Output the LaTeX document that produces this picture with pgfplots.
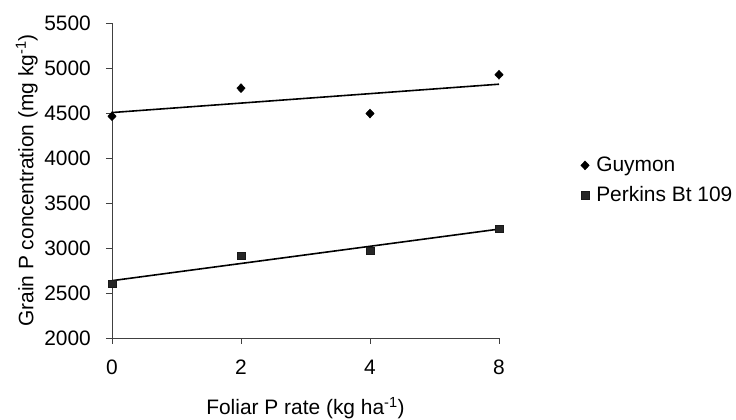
\documentclass[border=0pt]{standalone}
\usepackage{fontspec}
\setmainfont{Liberation Sans}
\usepackage{pgfplots}
\pgfplotsset{compat=1.18}
\newcommand{\bigf}{\fontsize{21}{25}\selectfont}
\begin{document}
\bigf
\begin{tikzpicture}
\useasboundingbox (0,0) rectangle (736bp,420bp);
\begin{axis}[
  at={(112bp,82bp)}, anchor=south west,
  scale only axis, width=387bp, height=315bp,
  xmin=0, xmax=3, ymin=2000, ymax=5500,
  xtick={0,1,2,3}, xticklabels={0,2,4,8},
  ytick={2000,2500,...,5500},
  axis x line=bottom, axis y line=left,
  axis line style={-, draw=black!75, line width=1pt},
  tick align=outside, major tick length=6bp,
  tick style={draw=black!75, line width=1pt},
  /pgf/number format/assume math mode=true,
  /pgf/number format/set thousands separator={},
  tick label style={font=\bigf},
  yticklabel style={xshift=-8bp},
  xticklabel style={yshift=-9bp},
  xlabel={Foliar P rate (kg ha\textsuperscript{-1})},
  ylabel={Grain P concentration (mg kg\textsuperscript{-1})},
  xlabel style={at={(axis description cs:0.5,-0.222)}, anchor=center, font=\bigf},
  ylabel style={at={(axis description cs:-0.22,0.5)}, anchor=center, font=\bigf},
  clip=false,
  legend image code/.code={\draw[#1] plot coordinates {(0bp,0bp)};},
  legend cell align=left,
  legend style={at={(axis description cs:1.211,0.5)}, anchor=west, draw=none, fill=none,
    inner sep=0pt, row sep=8bp, column sep=5bp, font=\bigf},
]
\addplot[black, line width=1.6pt, forget plot] coordinates {(0,4505)(3,4820)};
\addplot[black, line width=1.6pt, forget plot] coordinates {(0,2637)(3,3210)};
\addplot[only marks, mark=diamond*, mark size=4.5bp, black, mark options={fill=black, xscale=1.25}]
  coordinates {(0,4464)(1,4776)(2,4494)(3,4925)};
\addlegendentry{Guymon}
\addplot[only marks, mark=square*, mark size=3.7bp, black!90, mark options={fill=black!85}]
  coordinates {(0,2602)(1,2914)(2,2967)(3,3215)};
\addlegendentry{Perkins Bt 109}
\end{axis}
\end{tikzpicture}
\end{document}
